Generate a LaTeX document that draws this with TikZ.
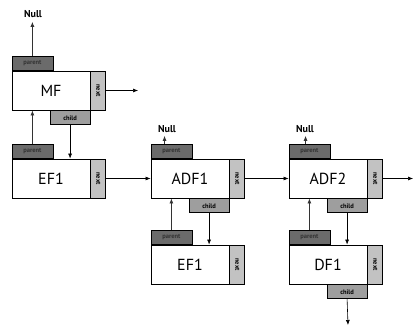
\documentclass[tikz,border=0pt]{standalone}
\usepackage{fontspec}
\setmainfont{PT Sans}
\usepackage{graphicx}
\usetikzlibrary{arrows.meta, positioning, calc}
\definecolor{tabdark}{gray}{0.42}
\definecolor{tabmid}{gray}{0.62}
\definecolor{tablight}{gray}{0.76}

\tikzset{
  record/.style={draw, line width=0.9pt, fill=white, minimum width=78pt, minimum height=39pt,
    inner sep=0pt, font=\fontsize{16}{18}\selectfont},
  tab/.style={draw, line width=0.7pt, inner sep=0pt, font=\fontsize{6.5}{7}\selectfont\bfseries},
  parenttab/.style={tab, fill=tabdark, text=black!80, minimum width=41pt, minimum height=14pt, anchor=south west},
  childtab/.style={tab, fill=tabmid, minimum width=40pt, minimum height=14pt, anchor=north east},
  nexttab/.style={tab, fill=tablight, minimum width=15pt, minimum height=39pt, anchor=west},
  link/.style={-{Latex[length=5pt,width=4pt]}, line width=0.6pt},
  uplink/.style={link, line width=0.8pt, black!80},
  nulltext/.style={font=\fontsize{10}{12}\selectfont\bfseries, inner sep=1pt}
}

\begin{document}
\begin{tikzpicture}[x=1pt, y=-1pt]
  \useasboundingbox (0,0) rectangle (415,326);
  % records with parent and next fields
  \foreach \n/\lbl/\px/\py in {mf/MF/51/90.5, efa/EF1/51/178.5, adfa/ADF1/190/178.5,
      adfb/ADF2/328/178.5, efb/EF1/190/264.5, df/DF1/328/264.5} {
    \node[record] (\n) at (\px,\py) {\lbl};
    \node[parenttab] (\n-p) at (\n.north west) {parent};
    \node[nexttab] (\n-n) at (\n.east) {\rotatebox{-90}{next}};
  }
  % child fields
  \foreach \n in {mf, adfa, adfb, df}
    \node[childtab] (\n-c) at (\n.south east) {child};

  % Null ends
  \node[nulltext] (null-mf) at (33,14) {Null};
  \node[nulltext] (null-adfa) at (167,129) {Null};
  \node[nulltext] (null-adfb) at (305,129) {Null};
  \draw[uplink, shorten >=3pt] (mf-p.north) -- (mf-p.north |- null-mf.south);
  \draw[uplink, shorten >=2pt] ($(adfa-p.north west)+(14,0)$) coordinate (ta) -- (ta |- null-adfa.south);
  \draw[uplink, shorten >=2pt] ($(adfb-p.north west)+(17,0)$) coordinate (tb) -- (tb |- null-adfb.south);

  % parent and child links
  \draw[uplink] (efa-p.north) -- (efa-p.north |- mf.south);
  \draw[link] (mf-c.south) -- (mf-c.south |- efa.north);
  \draw[uplink] (efb-p.north) -- (efb-p.north |- adfa.south);
  \draw[link] (adfa-c.south) -- (adfa-c.south |- efb.north);
  \draw[uplink] (df-p.north) -- (df-p.north |- adfb.south);
  \draw[link] (adfb-c.south) -- (adfb-c.south |- df.north);

  % next links
  \coordinate (mf-out) at (138,90.5);
  \coordinate (adfb-out) at (413,178.5);
  \coordinate (df-out) at (348,325);
  \draw[link] (mf-n.east) -- (mf-out);
  \draw[link] (efa-n.east) -- (adfa.west);
  \draw[link] (adfa-n.east) -- (adfb.west);
  \draw[link] (adfb-n.east) -- (adfb-out);
  \draw[link] (df-c.south) -- (df-out);
\end{tikzpicture}
\end{document}
